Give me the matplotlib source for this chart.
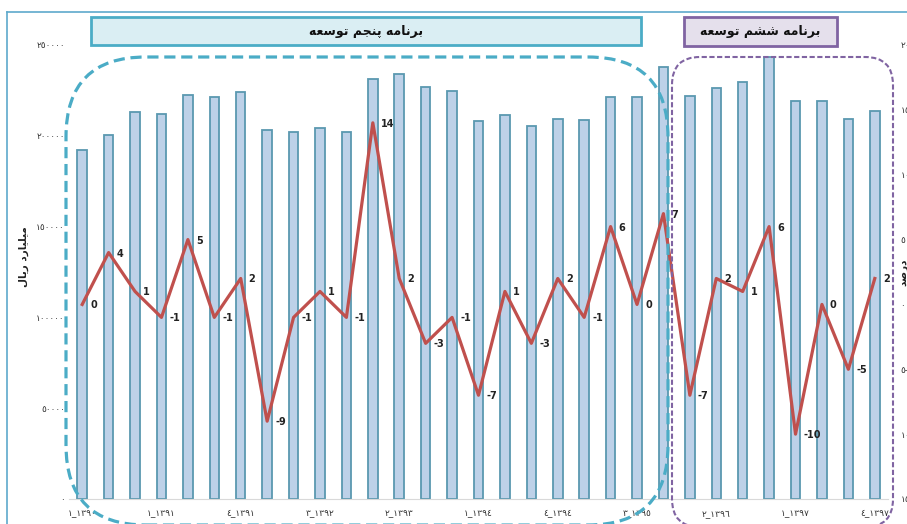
import matplotlib
matplotlib.use('Agg')
import matplotlib.pyplot as plt
from matplotlib.patches import FancyBboxPatch, Rectangle
from matplotlib.transforms import Affine2D
from matplotlib.lines import Line2D

# ---------------- data ----------------
bar_values = [192200, 200400, 213100, 212000, 222500, 221400, 224100, 203200, 202100, 204300,
              202100, 231300, 234000, 226900, 224700, 208200, 211500, 205400, 209300, 208700,
              221400, 221400, 237900, 221900, 226300, 229600, 243400, 219200, 219200, 209300,
              213700]
growth = [0, 4, 1, -1, 5, -1, 2, -9, -1, 1, -1, 14, 2, -3, -1, -7, 1, -3, 2, -1,
          6, 0, 7, -7, 2, 1, 6, -10, 0, -5, 2]
tick_idx = [0, 3, 6, 9, 12, 15, 18, 21, 24, 27, 30]
tick_labels = ['١_١٣٩٠', '١_١٣٩١', '٤_١٣٩١', '٣_١٣٩٢', '٢_١٣٩٣', '١_١٣٩٤',
               '٤_١٣٩٤', '٣_١٣٩٥', '٢_١٣٩٦', '١_١٣٩٧', '٤_١٣٩٧']
left_ticks = [0, 50000, 100000, 150000, 200000, 250000]
left_labels = ['٠', '٥٠٠٠٠', '١٠٠٠٠٠', '١٥٠٠٠٠', '٢٠٠٠٠٠', '٢٥٠٠٠٠']
right_ticks = [-15, -10, -5, 0, 5, 10, 15, 20]
right_labels = ['١٥-', '١٠-', '٥-', '٠', '٥', '١٠', '١٥', '٢٠']
plan5 = 'برنامه پنجم توسعه'
plan6 = 'برنامه ششم توسعه'
ylabel_left = 'میلیارد ریال'
ylabel_right = 'درصد'

# ---------- tiny arabic shaper (matplotlib has no RTL shaping) ----------
FORMS = {
    'ا': ('\uFE8D', '\uFE8E', None, None),
    'ب': ('\uFE8F', '\uFE90', '\uFE91', '\uFE92'),
    'ت': ('\uFE95', '\uFE96', '\uFE97', '\uFE98'),
    'ج': ('\uFE9D', '\uFE9E', '\uFE9F', '\uFEA0'),
    'د': ('\uFEA9', '\uFEAA', None, None),
    'ر': ('\uFEAD', '\uFEAE', None, None),
    'س': ('\uFEB1', '\uFEB2', '\uFEB3', '\uFEB4'),
    'ش': ('\uFEB5', '\uFEB6', '\uFEB7', '\uFEB8'),
    'ص': ('\uFEB9', '\uFEBA', '\uFEBB', '\uFEBC'),
    'ع': ('\uFEC9', '\uFECA', '\uFECB', '\uFECC'),
    'ل': ('\uFEDD', '\uFEDE', '\uFEDF', '\uFEE0'),
    'م': ('\uFEE1', '\uFEE2', '\uFEE3', '\uFEE4'),
    'ن': ('\uFEE5', '\uFEE6', '\uFEE7', '\uFEE8'),
    'ه': ('\uFEE9', '\uFEEA', '\uFEEB', '\uFEEC'),
    'و': ('\uFEED', '\uFEEE', None, None),
    'پ': ('\uFB56', '\uFB57', '\uFB58', '\uFB59'),
    'ی': ('\uFBFC', '\uFBFD', '\uFBFE', '\uFBFF'),
}


def shape(text):
    out = []
    for i, ch in enumerate(text):
        forms = FORMS.get(ch)
        if forms is None:
            out.append(ch)
            continue
        prev = text[i - 1] if i > 0 else ''
        nxt = text[i + 1] if i + 1 < len(text) else ''
        join_prev = prev in FORMS and FORMS[prev][2] is not None
        join_next = forms[2] is not None and nxt in FORMS
        if join_prev and join_next:
            out.append(forms[3])
        elif join_prev:
            out.append(forms[1])
        elif join_next:
            out.append(forms[2])
        else:
            out.append(forms[0])
    return ''.join(reversed(out))


# ---------------- figure ----------------
W, H = 907, 524
fig = plt.figure(figsize=(W / 100, H / 100), dpi=100)
px = Affine2D().scale(1 / W, 1 / H) + fig.transFigure   # pixel coords, y up


def Y(y):
    return H - y


ax = fig.add_axes([69 / W, (H - 499) / H, (888 - 69) / W, (499 - 45) / H])
x = list(range(len(bar_values)))
ax.bar(x, bar_values, width=0.36, color='#bdd1e8', edgecolor='#5a98b0', linewidth=1.3, zorder=2)
ax.set_xlim(-0.5, len(bar_values) - 0.5)
ax.set_ylim(0, 250000)
ax.set_yticks(left_ticks)
ax.set_yticklabels(left_labels, fontsize=6.5, color='#333333')
ax.set_xticks(tick_idx)
ax.set_xticklabels(tick_labels, fontsize=6.5, color='#333333')
ax.tick_params(axis='y', length=0, pad=3)
ax.tick_params(axis='x', length=0, pad=7)
for s in ['top', 'left', 'right']:
    ax.spines[s].set_visible(False)
ax.spines['bottom'].set_color('#d9d9d9')

ax2 = ax.twinx()
ax2.plot(x, growth, color='#c0504d', linewidth=2.3, zorder=3)
for xi, g in zip(x, growth):
    ax2.annotate(str(g), (xi, g), xytext=(8, -1), textcoords='offset pixels',
                 ha='left', va='center', fontsize=7, fontweight='bold', color='#222222')
ax2.set_ylim(-15, 20)
ax2.set_yticks(right_ticks)
ax2.set_yticklabels(right_labels, fontsize=6.5, color='#333333')
ax2.tick_params(axis='y', length=0, pad=9)
for s in ['top', 'left', 'right', 'bottom']:
    ax2.spines[s].set_visible(False)

# chart frame
fig.add_artist(Line2D([7, 7], [Y(12), Y(530)], transform=px, color='#5ea9cc', lw=1.2))
fig.add_artist(Line2D([7, 910], [Y(12), Y(12)], transform=px, color='#5ea9cc', lw=1.2))

# plan header boxes
fig.add_artist(Rectangle((91, Y(45)), 550, 28, transform=px, facecolor='#daeef3',
                         edgecolor='#4bacc6', lw=2))
fig.add_artist(Rectangle((684, Y(46)), 153, 29, transform=px, facecolor='#e5e0ec',
                         edgecolor='#8064a2', lw=2))
fig.text(366, Y(31), shape(plan5), transform=px, ha='center', va='center',
         fontsize=9, fontweight='bold', color='#111111')
fig.text(760, Y(31), shape(plan6), transform=px, ha='center', va='center',
         fontsize=9, fontweight='bold', color='#111111')

# dashed rounded regions
fig.add_artist(FancyBboxPatch((66, Y(525)), 602, 468, boxstyle='round,pad=0,rounding_size=80',
                              transform=px, facecolor='none', edgecolor='#4bacc6', lw=2.3,
                              linestyle=(0, (3.5, 1.8))))
fig.add_artist(FancyBboxPatch((672, Y(527)), 221, 470, boxstyle='round,pad=0,rounding_size=28',
                              transform=px, facecolor='none', edgecolor='#8064a2', lw=1.5,
                              linestyle=(0, (2.5, 1.2))))

# axis titles
fig.text(24, Y(257), shape(ylabel_left), transform=px, rotation=90, ha='center', va='center',
         fontsize=7.5, fontweight='bold', color='#222222')
fig.text(903, Y(272), shape(ylabel_right), transform=px, rotation=90, ha='center', va='center',
         fontsize=7.5, fontweight='bold', color='#222222')

fig.savefig('out.png', dpi=100)
